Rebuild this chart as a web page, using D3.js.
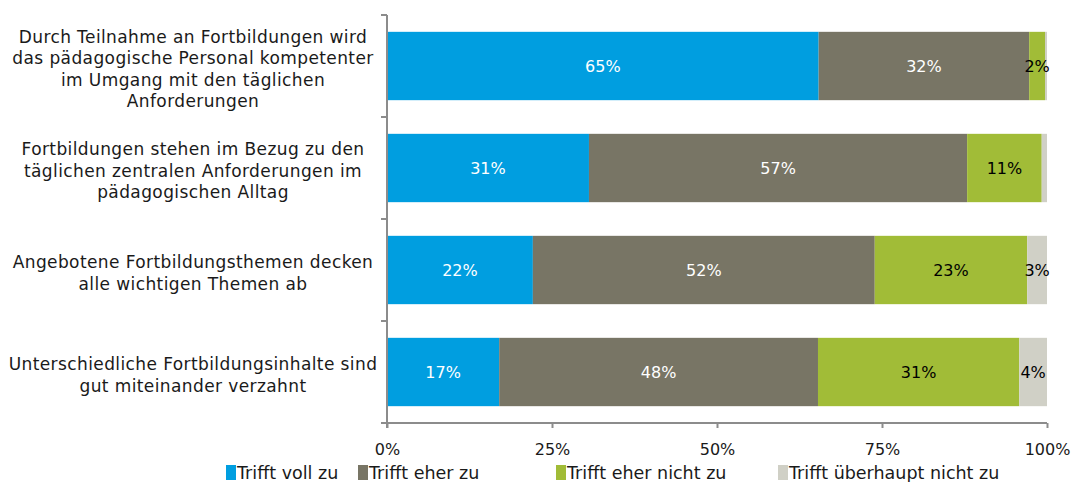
<!DOCTYPE html>
<html>
<head>
<meta charset="utf-8">
<script src="https://cdn.jsdelivr.net/npm/d3@7"></script>
<style>
  body { margin: 0; background: #fff; }
  svg text { font-family: "DejaVu Sans", Verdana, sans-serif; }
</style>
</head>
<body>
<svg class="root"></svg>
<script>
// categories (each one split into its display lines)
var categories = [
  ["Durch Teilnahme an Fortbildungen wird", "das pädagogische Personal kompetenter", "im Umgang mit den täglichen", "Anforderungen"],
  ["Fortbildungen stehen im Bezug zu den", "täglichen zentralen Anforderungen im", "pädagogischen Alltag"],
  ["Angebotene Fortbildungsthemen decken", "alle wichtigen Themen ab"],
  ["Unterschiedliche Fortbildungsinhalte sind", "gut miteinander verzahnt"]
];
var seriesNames = ["Trifft voll zu", "Trifft eher zu", "Trifft eher nicht zu", "Trifft überhaupt nicht zu"];
var trifftVoll = [65.4, 30.6, 22.1, 17.0];
var trifftEher = [31.9, 57.3, 51.8, 48.3];
var eherNicht = [2.4, 11.3, 23.1, 30.5];
var ueberhauptNicht = [0.3, 0.8, 3.0, 4.2];
var tickValues = [0, 25, 50, 75, 100];

var colors = ["#009ee0", "#787565", "#a1bc37", "#d0d0c6"],
    labelColors = ["#fff", "#fff", "#000", "#000"];

var width = 1077, height = 482,
    margin = {top: 15, right: 30, bottom: 60, left: 387};

var svg = d3.select(".root").attr("width", width).attr("height", height);

var rows = categories.map(function(c, i) {
  return {idx: i, lines: c, values: [trifftVoll[i], trifftEher[i], eherNicht[i], ueberhauptNicht[i]]};
});

var x = d3.scaleLinear().domain([0, 100]).range([margin.left, 1047]);
var y = d3.scaleBand().domain(d3.range(categories.length)).range([margin.top, 423]).paddingInner(0.33).paddingOuter(0.165);
var yb = d3.scaleLinear().domain([0, categories.length]).range([margin.top, 423]);

// bars
rows.forEach(function(r) {
  var acc = 0;
  var segs = r.values.map(function(v, k) {
    var s = {k: k, v: v, x0: acc, x1: acc + v};
    acc += v;
    return s;
  });
  var g = svg.append("g");
  g.selectAll("rect").data(segs).enter().append("rect")
    .attr("x", function(d) { return x(d.x0); })
    .attr("y", y(r.idx))
    .attr("width", function(d) { return x(d.x1) - x(d.x0); })
    .attr("height", y.bandwidth())
    .style("fill", function(d) { return colors[d.k]; });
  g.selectAll("text").data(segs.filter(function(d) { return d.v >= 1.5; })).enter().append("text")
    .attr("x", function(d) { return (x(d.x0) + x(d.x1)) / 2; })
    .attr("y", y(r.idx) + y.bandwidth() / 2)
    .attr("dy", "0.35em")
    .attr("text-anchor", "middle")
    .style("font-size", "16px")
    .style("fill", function(d) { return labelColors[d.k]; })
    .text(function(d) { return Math.round(d.v) + "%"; });
});

// category labels
var lineH = 21.5;
rows.forEach(function(r) {
  var cy = y(r.idx) + y.bandwidth() / 2 + 3;
  var t = svg.append("text")
    .attr("text-anchor", "middle")
    .style("font-size", "17px")
    .style("letter-spacing", "0.4px")
    .style("fill", "#1a1a1a");
  r.lines.forEach(function(l, j) {
    t.append("tspan")
      .attr("x", 193)
      .attr("y", cy + (j - (r.lines.length - 1) / 2) * lineH)
      .attr("dy", "0.35em")
      .text(l);
  });
});

// axes
var axisColor = "#8c8c8c";
svg.append("line").attr("x1", x(0)).attr("x2", x(0)).attr("y1", yb(0)).attr("y2", yb(4) + 5)
  .style("stroke", axisColor).style("stroke-width", 2);
svg.selectAll(".ytick").data(d3.range(categories.length + 1)).enter().append("line")
  .attr("x1", x(0) - 6).attr("x2", x(0))
  .attr("y1", function(d) { return yb(d); }).attr("y2", function(d) { return yb(d); })
  .style("stroke", axisColor).style("stroke-width", 2);

var xAxis = d3.axisBottom(x).tickValues(tickValues).tickSize(5).tickPadding(16)
  .tickFormat(function(d) { return d + "%"; });
var gx = svg.append("g").attr("transform", "translate(0," + yb(4) + ")").call(xAxis);
gx.select(".domain").attr("d", "M" + (x(0) - 6) + ",0H" + x(100)).style("stroke", axisColor).style("stroke-width", 2);
gx.selectAll(".tick line").style("stroke", axisColor).style("stroke-width", 2);
gx.selectAll(".tick text").style("font-size", "16px").style("fill", "#1a1a1a")
  .style("font-family", "'DejaVu Sans', Verdana, sans-serif");

// legend
var legendX = [226, 358, 556, 778];
var legend = svg.selectAll(".legend").data(seriesNames).enter().append("g")
  .attr("class", "legend")
  .attr("transform", function(d, i) { return "translate(" + legendX[i] + ",465)"; });
legend.append("rect").attr("width", 10).attr("height", 15)
  .style("fill", function(d, i) { return colors[i]; });
legend.append("text").attr("x", 11).attr("y", 8).attr("dy", "0.35em")
  .style("font-size", "17.5px").style("fill", "#1a1a1a")
  .text(function(d) { return d; });
</script>
</body>
</html>
